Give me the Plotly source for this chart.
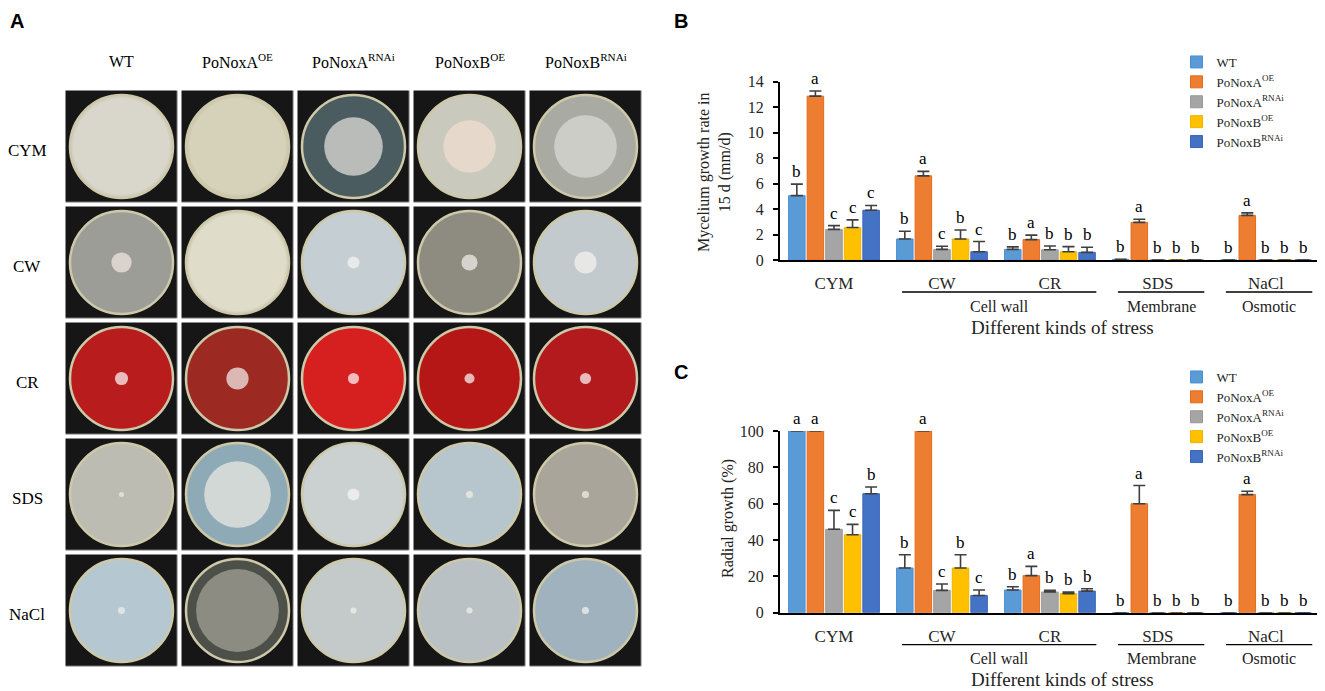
import numpy as np
import plotly.graph_objects as go

# the page shows the figure 8 px in from the top-left corner
OFF = 8
W, H = 1325 - OFF, 691 - OFF

strains = ["WT", "PoNoxA<sup>OE</sup>", "PoNoxA<sup>RNAi</sup>", "PoNoxB<sup>OE</sup>", "PoNoxB<sup>RNAi</sup>"]
stresses = ["CYM", "CW", "CR", "SDS", "NaCl"]
stress_groups = [("Cell wall", 1, 2), ("Membrane", 3, 3), ("Osmotic", 4, 4)]
bar_colors = ["#5b9bd5", "#ed7d31", "#a5a5a5", "#ffc000", "#4472c4"]
edge_colors = ["#4a90d9", "#e46c1c", "#999999", "#f0b400", "#3a64b8"]

# B: mycelium growth rate in 15 d (mm/d), one list per strain over the stresses
rate_wt = [5.05, 1.65, 0.83, 0.05, 0.0]
rate_wt_err = [0.9, 0.6, 0.2, 0.0, 0.0]
rate_aoe = [12.85, 6.6, 1.6, 2.95, 3.5]
rate_aoe_err = [0.4, 0.35, 0.35, 0.25, 0.2]
rate_arnai = [2.4, 0.83, 0.8, 0.0, 0.0]
rate_arnai_err = [0.3, 0.25, 0.3, 0.0, 0.0]
rate_boe = [2.55, 1.65, 0.65, 0.0, 0.0]
rate_boe_err = [0.6, 0.7, 0.4, 0.0, 0.0]
rate_brnai = [3.9, 0.65, 0.6, 0.0, 0.0]
rate_brnai_err = [0.38, 0.8, 0.4, 0.0, 0.0]
rate_letters = ["baccc", "bacbc", "babbb", "babbb", "babbb"]

# C: radial growth (%)
radial_wt = [100, 24.6, 12.5, 0, 0]
radial_wt_err = [0, 7.3, 1.8, 0, 0]
radial_aoe = [100, 100, 20.4, 60.0, 65.0]
radial_aoe_err = [0, 0, 5.1, 10.0, 1.8]
radial_arnai = [45.9, 12.3, 11.4, 0, 0]
radial_arnai_err = [10.4, 3.5, 0.9, 0, 0]
radial_boe = [42.9, 24.6, 10.5, 0, 0]
radial_boe_err = [5.7, 7.3, 0.9, 0, 0]
radial_brnai = [65.5, 9.5, 11.9, 0, 0]
radial_brnai_err = [3.7, 3.0, 1.3, 0, 0]
radial_letters = ["aaccb", "bacbc", "babbb", "babbb", "babbb"]

# A: plate photographs (rows = stresses, columns = strains)
plate_colors = [
    ["#d3cfc2", "#cfcab0", "#4a5c60", "#c9c9be", "#a9aba3"],
    ["#9d9d98", "#d8d5c3", "#c5ced3", "#8e8b80", "#c3cacd"],
    ["#b81c1c", "#9c2a22", "#d61f1f", "#b51717", "#b21a1d"],
    ["#bdbcb2", "#8eaab6", "#cbd1d1", "#b7c5cc", "#a9a59a"],
    ["#b5c7d0", "#4d4f49", "#c4caca", "#b9c1c5", "#9fb2bd"],
]
colony_colors = [
    ["#dcd9ce", "#d8d4bd", "#e8e6de", "#f2dfd0", "#dcdcd6"],
    ["#f3e9e4", "#e2dfcd", "#f7f7f4", "#f4f2ee", "#f6f3f0"],
    ["#ffffff", "#f7f5f2", "#ffffff", "#ffffff", "#ffffff"],
    ["#eeeee0", "#eeebe4", "#f8f8f4", "#f3f0e0", "#f4f2ea"],
    ["#f4f2e8", "#a7a79c", "#f5f3ea", "#f5f3ea", "#f7f6f1"],
]
colony_cover = [
    [0.96, 0.96, 0.58, 0.52, 0.62],
    [0.20, 0.96, 0.12, 0.16, 0.22],
    [0.13, 0.22, 0.11, 0.10, 0.11],
    [0.05, 0.66, 0.12, 0.07, 0.07],
    [0.07, 0.82, 0.06, 0.06, 0.07],
]

SLOT, BAR_W = 0.172, 0.153
SERIF = "Liberation Serif"
SANS = "Liberation Sans"


def px_x(p):
    return (p - OFF) / W


def px_y(p):
    return 1 - (p - OFF) / H


def label(**kw):
    # plain centred text, no arrow
    base = dict(showarrow=False, xanchor="center", yanchor="middle")
    base.update(kw)
    return base


fig = go.Figure()

# ---- panel A
n = len(stresses)
cols = np.tile(np.arange(n), n)
rows = np.repeat(np.arange(n), n)
fig.add_trace(go.Heatmap(
    z=np.ones((n, n)), x=np.arange(n), y=np.arange(n), xaxis="x3", yaxis="y3",
    colorscale=[[0, "#161616"], [1, "#161616"]], showscale=False,
    xgap=4.4, ygap=4.4, hoverinfo="skip"))
fig.add_trace(go.Scatter(
    x=cols, y=rows, mode="markers", xaxis="x3", yaxis="y3", showlegend=False,
    marker=dict(size=103, color=sum(plate_colors, []),
                line=dict(color="#cdc8a8", width=2.5)),
    hoverinfo="skip"))
fig.add_trace(go.Scatter(
    x=cols, y=rows, mode="markers", xaxis="x3", yaxis="y3", showlegend=False,
    marker=dict(size=np.array(sum(colony_cover, [])) * 101,
                color=sum(colony_colors, []), line=dict(width=0)),
    hoverinfo="skip"))

# ---- panels B and C
panels = [
    ("x", "y", "legend",
     [rate_wt, rate_aoe, rate_arnai, rate_boe, rate_brnai],
     [rate_wt_err, rate_aoe_err, rate_arnai_err, rate_boe_err, rate_brnai_err],
     rate_letters),
    ("x2", "y2", "legend2",
     [radial_wt, radial_aoe, radial_arnai, radial_boe, radial_brnai],
     [radial_wt_err, radial_aoe_err, radial_arnai_err, radial_boe_err, radial_brnai_err],
     radial_letters),
]

annotations = []
for xa, ya, leg, values, errors, letters in panels:
    for j, name in enumerate(strains):
        xpos = np.arange(n) + (j - 2) * SLOT
        fig.add_trace(go.Bar(
            x=xpos, y=values[j], width=BAR_W, name=name, legend=leg,
            xaxis=xa, yaxis=ya,
            marker=dict(color=bar_colors[j], line=dict(color=edge_colors[j], width=1)),
            error_y=dict(type="data", symmetric=False, array=errors[j],
                         arrayminus=[0] * n, color="#3f3f3f", thickness=1.6, width=6),
        ))
        for i in range(n):
            annotations.append(label(
                x=xpos[i], y=values[j][i] + errors[j][i], xref=xa, yref=ya,
                text=letters[i][j], yanchor="bottom", yshift=1,
                font=dict(family=SERIF, size=17, color="black")))

axis_common = dict(showgrid=False, zeroline=False, showline=True, linecolor="black",
                   linewidth=2, automargin=False,
                   tickfont=dict(family=SERIF, size=16, color="#262626"))
x_common = dict(axis_common, range=[-0.5, 4.52], tickvals=list(range(n)), ticktext=stresses,
                ticks="", ticklabelstandoff=7, domain=[px_x(780), px_x(1322)],
                tickfont=dict(family=SERIF, size=17, color="#262626"))
y_common = dict(axis_common, ticks="outside", ticklen=5, tickwidth=1.5, tickcolor="black",
                ticklabelstandoff=6)
legend_common = dict(xanchor="left", yanchor="top", tracegroupgap=0, bgcolor="rgba(0,0,0,0)",
                     font=dict(family=SERIF, size=13, color="#222"))

fig.update_layout(
    width=W, height=H, margin=dict(l=0, r=0, t=0, b=0, autoexpand=False),
    paper_bgcolor="white", plot_bgcolor="white", barmode="overlay",
    xaxis=dict(x_common, anchor="y"),
    yaxis=dict(y_common, anchor="x", range=[0, 14], dtick=2, domain=[px_y(260), px_y(81.5)]),
    xaxis2=dict(x_common, anchor="y2"),
    yaxis2=dict(y_common, anchor="x2", range=[0, 100], dtick=20, domain=[px_y(612.7), px_y(431)]),
    xaxis3=dict(domain=[px_x(63.5), px_x(643.5)], range=[-0.5, 4.5], visible=False, anchor="y3",
                automargin=False),
    yaxis3=dict(domain=[px_y(668.5), px_y(88.5)], range=[4.5, -0.5], visible=False, anchor="x3",
                automargin=False),
    legend=dict(legend_common, x=px_x(1176.5), y=px_y(47)),
    legend2=dict(legend_common, x=px_x(1176.5), y=px_y(362)),
)

# panel letters (A and B hang from the top edge, A also from the left edge)
for lab, x, y, xanc, yanc in [("A", OFF, OFF, "left", "top"), ("B", 681, OFF, "center", "top"),
                              ("C", 681, 372, "center", "middle")]:
    annotations.append(label(x=px_x(x), y=px_y(y), xref="paper", yref="paper", text=f"<b>{lab}</b>",
                             xanchor=xanc, yanchor=yanc,
                             font=dict(family=SANS, size=20, color="black")))

# panel A headers
for j, name in enumerate(strains):
    annotations.append(label(x=j, y=px_y(61), xref="x3", yref="paper", text=name,
                             font=dict(family=SERIF, size=16, color="black")))
for i, name in enumerate(stresses):
    annotations.append(label(x=px_x(27), y=i, xref="paper", yref="y3", text=name, yshift=-4,
                             font=dict(family=SERIF, size=17, color="black")))

# stress groups and axis titles
shapes = []
for xa, base in [("x", 260), ("x2", 612.7)]:
    for name, a, b in stress_groups:
        shapes.append(dict(type="line", xref=xa, yref="paper", x0=a - 0.37, x1=b + 0.43,
                           y0=px_y(base + 32), y1=px_y(base + 32),
                           line=dict(color="black", width=1.3)))
        annotations.append(label(x=(a + b) / 2 + 0.03, y=px_y(base + 46), xref=xa, yref="paper",
                                 text=name, font=dict(family=SERIF, size=16, color="#222")))
    annotations.append(label(x=px_x(1062), y=px_y(base + 67), xref="paper", yref="paper",
                             text="Different kinds of stress",
                             font=dict(family=SERIF, size=19, color="#222")))

annotations.append(label(x=px_x(714), y=px_y(172), xref="paper", yref="paper", textangle=-90,
                         text="Mycelium growth rate in<br>15 d (mm/d)",
                         font=dict(family=SERIF, size=16, color="#222")))
annotations.append(label(x=px_x(728), y=px_y(519), xref="paper", yref="paper", textangle=-90,
                         text="Radial growth (%)",
                         font=dict(family=SERIF, size=16, color="#222")))

fig.update_layout(annotations=annotations, shapes=shapes)
fig.write_html("out.html")
